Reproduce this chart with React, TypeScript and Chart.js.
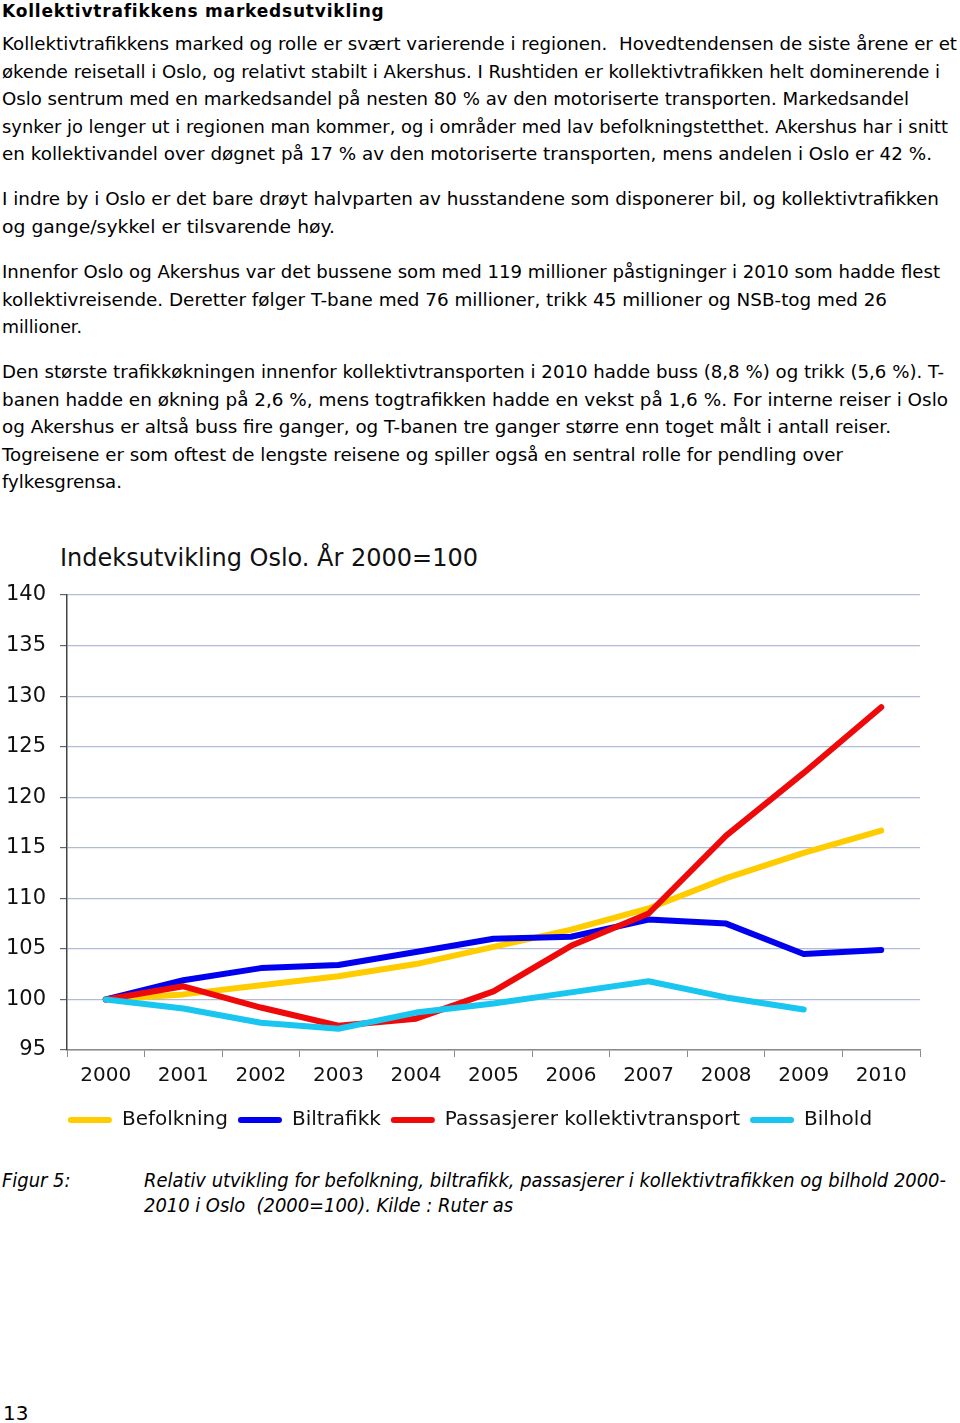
import React, { useEffect, useLayoutEffect, useRef } from "react";
import { Chart, registerables } from "chart.js";

Chart.register(...registerables);

// ---------- data ----------
const years = ["2000", "2001", "2002", "2003", "2004", "2005", "2006", "2007", "2008", "2009", "2010"];
const befolkning = [100, 100.5, 101.4, 102.3, 103.5, 105.2, 106.9, 109.0, 112.0, 114.5, 116.7];
const biltrafikk = [100, 101.9, 103.1, 103.4, 104.7, 106.0, 106.2, 107.9, 107.5, 104.5, 104.9];
const passasjerer = [100, 101.3, 99.2, 97.4, 98.1, 100.8, 105.3, 108.5, 116.2, 122.4, 128.9];
const bilhold = [100, 99.1, 97.7, 97.1, 98.7, 99.6, 100.7, 101.8, 100.2, 99.0, null];
const seriesNames = ["Befolkning", "Biltrafikk", "Passasjerer kollektivtransport", "Bilhold"];
const yMin = 95;
const yMax = 140;
const yStep = 5;

const chartTitle = "Indeksutvikling Oslo. År 2000=100";

const heading = "Kollektivtrafikkens markedsutvikling";
const para1 = [
  "Kollektivtrafikkens marked og rolle er svært varierende i regionen.  Hovedtendensen de siste årene er et",
  "økende reisetall i Oslo, og relativt stabilt i Akershus. I Rushtiden er kollektivtrafikken helt dominerende i",
  "Oslo sentrum med en markedsandel på nesten 80 % av den motoriserte transporten. Markedsandel",
  "synker jo lenger ut i regionen man kommer, og i områder med lav befolkningstetthet. Akershus har i snitt",
  "en kollektivandel over døgnet på 17 % av den motoriserte transporten, mens andelen i Oslo er 42 %.",
];
const para2 = [
  "I indre by i Oslo er det bare drøyt halvparten av husstandene som disponerer bil, og kollektivtrafikken",
  "og gange/sykkel er tilsvarende høy.",
];
const para3 = [
  "Innenfor Oslo og Akershus var det bussene som med 119 millioner påstigninger i 2010 som hadde flest",
  "kollektivreisende. Deretter følger T-bane med 76 millioner, trikk 45 millioner og NSB-tog med 26",
  "millioner.",
];
const para4 = [
  "Den største trafikkøkningen innenfor kollektivtransporten i 2010 hadde buss (8,8 %) og trikk (5,6 %). T-",
  "banen hadde en økning på 2,6 %, mens togtrafikken hadde en vekst på 1,6 %. For interne reiser i Oslo",
  "og Akershus er altså buss fire ganger, og T-banen tre ganger større enn toget målt i antall reiser.",
  "Togreisene er som oftest de lengste reisene og spiller også en sentral rolle for pendling over",
  "fylkesgrensa.",
];
const captionLabel = "Figur 5:";
const captionLines = [
  "Relativ utvikling for befolkning, biltrafikk, passasjerer i kollektivtrafikken og bilhold 2000-",
  "2010 i Oslo  (2000=100). Kilde : Ruter as",
];
const pageNumber = "13";

// ---------- layout / styles (line widths of the page's text) ----------
const para1Widths = [955, 938, 907, 946, 930];
const para2Widths = [937, 333];
const para3Widths = [938, 885, 80];
const para4Widths = [942, 946, 889, 841, 120];

const colors = ["#FFCC00", "#0000EE", "#EE0A0A", "#19C6F0"];
const chartFont = "'DejaVu Sans', Verdana, sans-serif";
const bodyFont = "'DejaVu Sans', sans-serif";
const captionFont = "'DejaVu Sans Condensed', 'DejaVu Sans', sans-serif";
const bodySize = 18.2;
const lineH = 27.5;
const legendShift = 10;

function FitLine({ text, width }: { text: string; width: number }) {
  const ref = useRef<HTMLSpanElement | null>(null);
  useLayoutEffect(() => {
    const el = ref.current;
    if (!el) return;
    el.style.transform = "none";
    const w = el.getBoundingClientRect().width;
    if (w > 0) {
      const k = Math.max(0.88, Math.min(1.12, width / w));
      el.style.transform = `scaleX(${k})`;
    }
  }, [text, width]);
  return (
    <div style={{ height: lineH }}>
      <span ref={ref} style={{ display: "inline-block", transformOrigin: "0 50%", whiteSpace: "pre" }}>
        {text}
      </span>
    </div>
  );
}

function Para({ lines, widths, top }: { lines: string[]; widths: number[]; top: number }) {
  return (
    <div
      style={{
        position: "absolute",
        left: 2,
        top,
        fontFamily: bodyFont,
        fontSize: bodySize,
        lineHeight: `${lineH}px`,
        color: "#000",
        whiteSpace: "pre",
      }}
    >
      {lines.map((l, i) => (
        <FitLine key={i} text={l} width={widths[i]} />
      ))}
    </div>
  );
}

const legendOffsetPlugin = {
  id: "legendOffset",
  afterLayout(chart: any) {
    const lg = chart.legend;
    if (lg) {
      lg.left += legendShift;
      lg.right += legendShift;
    }
  },
};

export default function App() {
  const canvasRef = useRef<HTMLCanvasElement | null>(null);

  useEffect(() => {
    document.body.style.margin = "0";
    const canvas = canvasRef.current;
    if (!canvas) return;
    const series = [befolkning, biltrafikk, passasjerer, bilhold];
    const chart = new Chart(canvas, {
      type: "line",
      data: {
        labels: years,
        datasets: series.map((d, i) => ({
          label: seriesNames[i],
          data: d,
          borderColor: colors[i],
          backgroundColor: colors[i],
          borderWidth: 6,
          pointRadius: 0,
          pointHoverRadius: 0,
          tension: 0,
          borderCapStyle: "round" as const,
          borderJoinStyle: "round" as const,
          spanGaps: false,
          order: 3 - i,
        })),
      },
      plugins: [legendOffsetPlugin],
      options: {
        animation: false,
        responsive: false,
        maintainAspectRatio: false,
        layout: { padding: { top: 65, right: 40, bottom: 10, left: 0 } },
        plugins: {
          title: { display: false },
          tooltip: { enabled: false },
          legend: {
            position: "bottom",
            labels: {
              font: { family: chartFont, size: 20 },
              color: "#111",
              boxWidth: 44,
              boxHeight: 6,
              padding: 10,
              useBorderRadius: true,
              borderRadius: 3,
              sort: (a: any, b: any) => a.datasetIndex - b.datasetIndex,
              generateLabels: (ch: any) => {
                const items = Chart.defaults.plugins.legend.labels.generateLabels(ch);
                return items.map((it: any) => ({
                  ...it,
                  lineWidth: 0,
                  fillStyle: colors[it.datasetIndex],
                  strokeStyle: colors[it.datasetIndex],
                }));
              },
            },
          },
        },
        scales: {
          x: {
            type: "category",
            offset: true,
            grid: {
              offset: true,
              drawOnChartArea: false,
              drawTicks: true,
              tickLength: 7,
              tickColor: "#8a8a8a",
            },
            border: { color: "#8a8a8a", width: 1.5 },
            ticks: {
              font: { family: chartFont, size: 20 },
              color: "#111",
              padding: 7,
              maxRotation: 0,
              autoSkip: false,
            },
            afterFit: (s: any) => {
              s.height = 50;
            },
          },
          y: {
            min: yMin,
            max: yMax,
            grid: {
              color: "#b3bcd6",
              lineWidth: 1.2,
              tickLength: 7,
              tickColor: "#666",
            },
            border: { color: "#444", width: 1.5 },
            ticks: {
              stepSize: yStep,
              font: { family: chartFont, size: 21 },
              color: "#111",
              padding: 14,
            },
            afterFit: (s: any) => {
              s.width = 67;
            },
          },
        },
      },
    });
    return () => chart.destroy();
  }, []);

  return (
    <div style={{ position: "relative", width: 960, height: 1423, background: "#fff", overflow: "hidden" }}>
      <div
        style={{
          position: "absolute",
          left: 2,
          top: 0,
          fontFamily: bodyFont,
          fontWeight: "bold",
          fontSize: 17,
          letterSpacing: "0.8px",
          lineHeight: "22px",
          color: "#000",
          whiteSpace: "pre",
        }}
      >
        {heading}
      </div>
      <Para lines={para1} widths={para1Widths} top={30} />
      <Para lines={para2} widths={para2Widths} top={185} />
      <Para lines={para3} widths={para3Widths} top={258} />
      <Para lines={para4} widths={para4Widths} top={358} />

      <div
        style={{
          position: "absolute",
          left: 60,
          top: 544,
          fontFamily: chartFont,
          fontSize: 24,
          lineHeight: "28px",
          color: "#111",
          whiteSpace: "pre",
        }}
      >
        {chartTitle}
      </div>
      <canvas
        ref={canvasRef}
        width={960}
        height={620}
        style={{ position: "absolute", left: 0, top: 530, width: 960, height: 620 }}
      />

      <div
        style={{
          position: "absolute",
          left: 2,
          top: 1168,
          fontFamily: captionFont,
          fontStyle: "italic",
          fontSize: 19.9,
          lineHeight: "25px",
          color: "#000",
          whiteSpace: "pre",
        }}
      >
        {captionLabel}
      </div>
      <div
        style={{
          position: "absolute",
          left: 144,
          top: 1168,
          fontFamily: captionFont,
          fontStyle: "italic",
          fontSize: 19.9,
          lineHeight: "25px",
          color: "#000",
          whiteSpace: "pre",
        }}
      >
        {captionLines.map((l, i) => (
          <div key={i}>{l}</div>
        ))}
      </div>
      <div
        style={{
          position: "absolute",
          left: 3,
          top: 1399,
          fontFamily: bodyFont,
          fontSize: 20,
          lineHeight: "28px",
          color: "#000",
        }}
      >
        {pageNumber}
      </div>
    </div>
  );
}
